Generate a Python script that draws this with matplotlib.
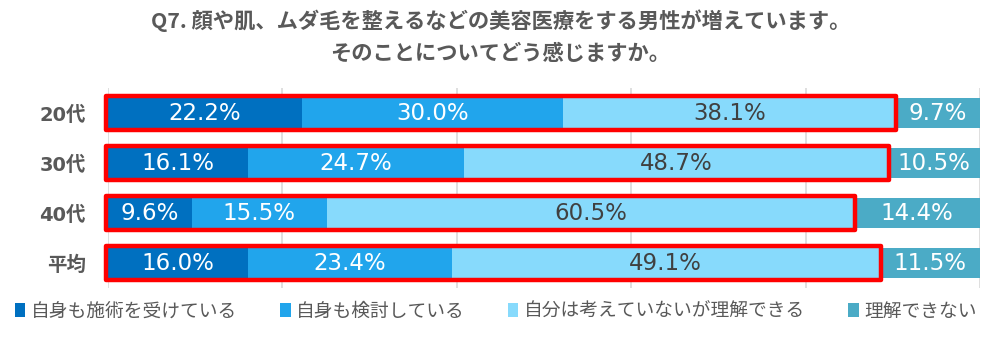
import numpy as np
import matplotlib
matplotlib.use('Agg')
import matplotlib.pyplot as plt
from matplotlib.patches import Rectangle, Patch

plt.rcParams['font.family'] = ['DejaVu Sans', 'Noto Sans CJK JP']

# datos
categorias = ['20代', '30代', '40代', '平均']
series = ['自身も施術を受けている', '自身も検討している',
          '自分は考えていないが理解できる', '理解できない']
recibe = [22.2, 16.1, 9.6, 16.0]
considera = [30.0, 24.7, 15.5, 23.4]
entiende = [38.1, 48.7, 60.5, 49.1]
no_entiende = [9.7, 10.5, 14.4, 11.5]

colores = ['#0070C0', '#21A5EC', '#87DAFC', '#4BABC6']
color_txt = ['white', 'white', '#404040', 'white']
gris = '#595959'

fig = plt.figure(figsize=(10.01, 3.42), dpi=100)
ax = fig.add_axes([108 / 1001, 1 - 288 / 342, 872 / 1001, 200 / 342])

datos = np.array([recibe, considera, entiende, no_entiende])
y = np.arange(len(categorias))
izq = np.zeros(len(categorias))
for k in range(len(series)):
    ax.barh(y, datos[k], left=izq, height=0.6, color=colores[k],
            label=series[k], zorder=2)
    for i in range(len(categorias)):
        ax.text(izq[i] + datos[k][i] / 2, y[i], f'{datos[k][i]:.1f}%',
                ha='center', va='center', fontsize=16.5, color=color_txt[k],
                zorder=4)
    izq += datos[k]

# recuadros rojos sobre las tres primeras partes
suma3 = datos[:3].sum(axis=0)
for i in range(len(categorias)):
    r = Rectangle((-0.2, y[i] - 0.34), suma3[i] + 0.3, 0.68, fill=False,
                  edgecolor='#FF0000', linewidth=3.2, joinstyle='round',
                  zorder=5, clip_on=False)
    ax.add_patch(r)

ax.set_xlim(0, 100)
ax.set_ylim(3.5, -0.5)
ax.set_xticks(np.arange(0, 101, 20))
ax.grid(axis='x', color='#D9D9D9', linewidth=1.2, zorder=0)
ax.tick_params(axis='x', length=0, labelbottom=False)
ax.tick_params(axis='y', length=0, pad=16)
ax.set_yticks(y)
ax.set_yticklabels(categorias, fontsize=14, fontweight='bold', color=gris)
for s in ax.spines.values():
    s.set_visible(False)

fig.text(0.5, 1 - 21 / 342, 'Q7. 顔や肌、ムダ毛を整えるなどの美容医療をする男性が増えています。',
         ha='center', va='center', fontsize=15.3, fontweight='bold', color=gris,
         family=['Noto Sans CJK JP'])
fig.text(0.5, 1 - 53 / 342, 'そのことについてどう感じますか。',
         ha='center', va='center', fontsize=15.3, fontweight='bold', color=gris,
         family=['Noto Sans CJK JP'])

manijas = [Patch(facecolor=c) for c in colores]
fig.legend(manijas, series, loc='center left', bbox_to_anchor=(15 / 1001, 1 - 311 / 342),
           ncol=4, frameon=False, handlelength=0.55, handleheight=0.7,
           handletextpad=0.3, columnspacing=2.3, borderpad=0, borderaxespad=0,
           prop={'family': 'Noto Sans CJK JP', 'size': 13.5}, labelcolor=gris)

fig.savefig('out.png', dpi=100)
